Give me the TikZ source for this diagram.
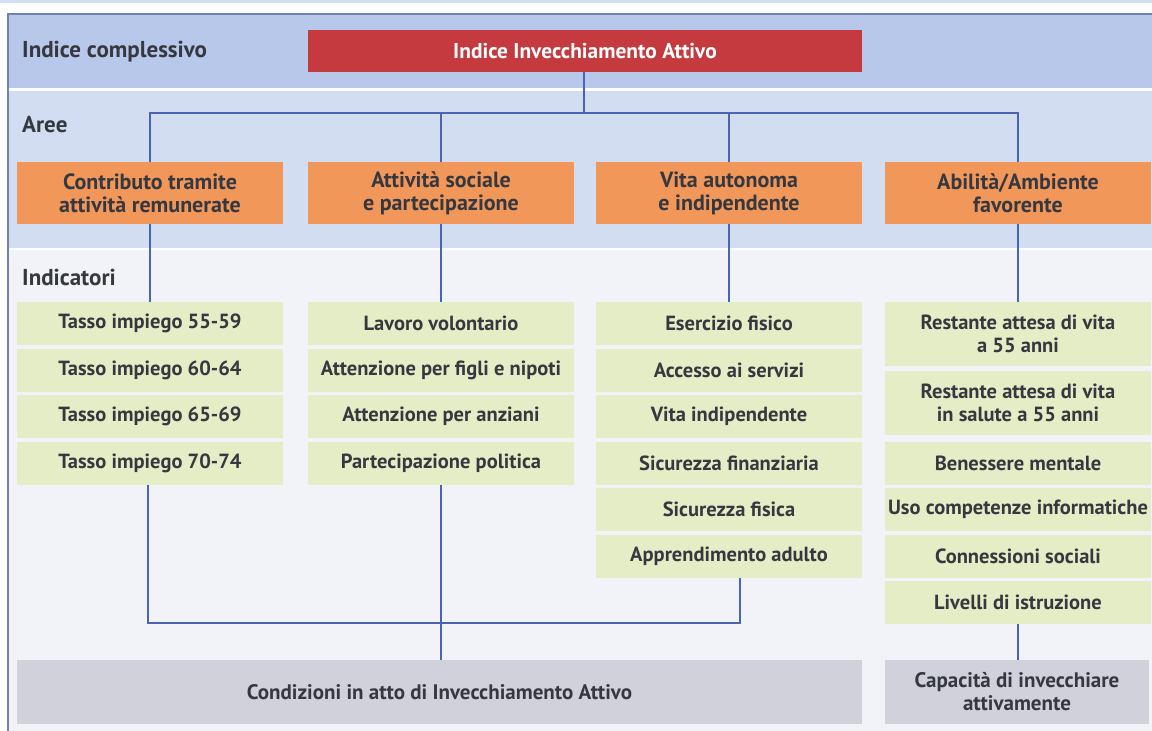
\documentclass[tikz,border=0pt]{standalone}
\usepackage{fontspec}
\setmainfont{PT Sans}
\definecolor{bandA}{HTML}{B7C8EA}
\definecolor{bandB}{HTML}{D3DDF2}
\definecolor{bandC}{HTML}{F1F3F9}
\definecolor{frameC}{HTML}{6F82B0}
\definecolor{redC}{HTML}{C53A3E}
\definecolor{orangeC}{HTML}{F1975A}
\definecolor{greenC}{HTML}{E5EDC6}
\definecolor{grayC}{HTML}{D0D1DA}
\definecolor{lineC}{HTML}{4A63B5}
\definecolor{txtC}{HTML}{363840}
\begin{document}
\begin{tikzpicture}[x=1pt,y=-1pt,
  box/.style={inner sep=0pt,outer sep=0pt,align=center,font=\bfseries\fontsize{20.5}{23}\selectfont,text=txtC},
  redbox/.style={box,fill=redC,text=white},
  areabox/.style={box,fill=orangeC,minimum width=266pt,minimum height=62pt,font=\bfseries\fontsize{22}{23}\selectfont},
  indbox/.style={box,fill=greenC,minimum width=266pt},
  resbox/.style={box,fill=grayC,minimum height=64pt,font=\bfseries\fontsize{21}{23}\selectfont},
  bandlabel/.style={anchor=west,inner sep=0pt,font=\bfseries\fontsize{23}{26}\selectfont,text=txtC},
  conn/.style={draw=lineC,line width=1.1pt}]
\useasboundingbox (0,0) rectangle (1152,731);
\fill[white] (0,0) rectangle (1152,731);
\fill[bandA!60] (0,0) rectangle (1152,3);
% bands
\fill[bandA] (8,14) rectangle (1152,88);
\fill[bandB] (8,91) rectangle (1152,248);
\fill[bandC] (8,250) rectangle (1152,731);
\draw[frameC,line width=1.5pt] (8,731) -- (8,14) -- (1152,14);
% band labels
\node[bandlabel] (lab1) at (22,52) {Indice complessivo};
\node[bandlabel] (lab2) at (22,125) {Aree};
\node[bandlabel] (lab3) at (22,277) {Indicatori};
% top
\node[redbox,minimum width=554pt,minimum height=42pt,font=\bfseries\fontsize{21.4}{24}\selectfont] (top) at (585,51) {Indice Invecchiamento Attivo};
% areas
\node[areabox] (a1) at (150,193) {Contributo tramite\\attività remunerate};
\node[areabox] (a2) at (441,193) {Attività sociale\\e partecipazione};
\node[areabox] (a3) at (729,193) {Vita autonoma\\e indipendente};
\node[areabox] (a4) at (1018,193) {Abilità/Ambiente\\favorente};
% indicators column 1
\node[indbox,minimum height=43pt] (c1r1) at (150,323.5) {Tasso impiego 55-59};
\node[indbox,minimum height=43pt] (c1r2) at (150,370) {Tasso impiego 60-64};
\node[indbox,minimum height=43pt] (c1r3) at (150,416.5) {Tasso impiego 65-69};
\node[indbox,minimum height=43pt] (c1r4) at (150,463) {Tasso impiego 70-74};
% column 2
\node[indbox,minimum height=43pt] (c2r1) at (441,323.5) {Lavoro volontario};
\node[indbox,minimum height=43pt] (c2r2) at (441,370) {Attenzione per figli e nipoti};
\node[indbox,minimum height=43pt] (c2r3) at (441,416.5) {Attenzione per anziani};
\node[indbox,minimum height=43pt] (c2r4) at (441,463) {Partecipazione politica};
% column 3
\node[indbox,minimum height=43pt] (c3r1) at (729,323.5) {Esercizio fisico};
\node[indbox,minimum height=43pt] (c3r2) at (729,370) {Accesso ai servizi};
\node[indbox,minimum height=43pt] (c3r3) at (729,416.5) {Vita indipendente};
\node[indbox,minimum height=43pt] (c3r4) at (729,463) {Sicurezza finanziaria};
\node[indbox,minimum height=43pt] (c3r5) at (729,509.5) {Sicurezza fisica};
\node[indbox,minimum height=43pt] (c3r6) at (729,556) {Apprendimento adulto};
% column 4
\node[indbox,minimum height=64pt] (c4r1) at (1018,334) {Restante attesa di vita\\a 55 anni};
\node[indbox,minimum height=64pt] (c4r2) at (1018,402.5) {Restante attesa di vita\\in salute a 55 anni};
\node[indbox,minimum height=43pt] (c4r3) at (1018,463) {Benessere mentale};
\node[indbox,minimum height=43pt] (c4r4) at (1018,509.5) {Uso competenze informatiche};
\node[indbox,minimum height=43pt] (c4r5) at (1018,556) {Connessioni sociali};
\node[indbox,minimum height=43pt] (c4r6) at (1018,602.5) {Livelli di istruzione};
% results
\node[resbox,minimum width=845pt] (res1) at (439.5,692) {Condizioni in atto di Invecchiamento Attivo};
\node[resbox,minimum width=264pt] (res2) at (1017,692) {Capacità di invecchiare\\attivamente};
% connectors
\coordinate (hub) at (584,113);
\draw[conn] (top.south -| hub) -- (hub);
\draw[conn] (a1.north) |- (hub) -| (a4.north);
\draw[conn] (a2.north) -- (a2.north |- hub);
\draw[conn] (a3.north) -- (a3.north |- hub);
\draw[conn] (a1.south) -- (c1r1.north);
\draw[conn] (a2.south) -- (c2r1.north);
\draw[conn] (a3.south) -- (c3r1.north);
\draw[conn] (a4.south) -- (c4r1.north);
\coordinate (j1) at (148,623);
\coordinate (j3) at (740,623);
\draw[conn] (c1r4.south -| j1) -- (j1) -- (j3) -- (c3r6.south -| j3);
\draw[conn] (c2r4.south) -- (res1.north -| c2r4.south);
\draw[conn] (c4r6.south) -- (res2.north -| c4r6.south);
\end{tikzpicture}
\end{document}
